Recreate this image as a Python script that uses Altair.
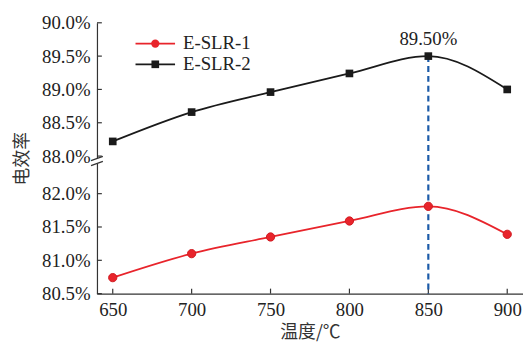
import altair as alt
import pandas as pd

# ---- data ----
temps = [650, 700, 750, 800, 850, 900]
eslr1 = [80.74, 81.10, 81.35, 81.59, 81.81, 81.39]
eslr2 = [88.22, 88.66, 88.96, 89.24, 89.50, 89.00]
series_names = ["E-SLR-1", "E-SLR-2"]
series_colors = ["#e8242b", "#1a1a1a"]
series_shapes = ["circle", "square"]
lower_ticks = [80.5, 81.0, 81.5, 82.0]
upper_ticks = [88.0, 88.5, 89.0, 89.5, 90.0]
x_ticks = [650, 700, 750, 800, 850, 900]
peak_temp = 850
peak_value = 89.50
peak_label = "89.50%"

LOW, LOW_TOP, HIGH, HIGH_TOP = 80.5, 82.0, 88.0, 90.0
GAP = 0.564
SHIFT = (LOW_TOP - LOW) + GAP
X_MIN, X_MAX = 640, 910


def to_axis(v):
    return v - LOW if v < 85 else v - HIGH + SHIFT


rows = []
for name, vals in zip(series_names, [eslr1, eslr2]):
    for t, v in zip(temps, vals):
        rows.append({"series": name, "temp": t, "value": v, "d": to_axis(v)})
df = pd.DataFrame(rows)

SERIF = "Times New Roman, Liberation Serif, serif"
CJK = "Noto Sans CJK SC"

y_tick_vals = [round(to_axis(t), 4) for t in lower_ticks + upper_ticks]
label_expr = (
    f"datum.value < 1.8 ? format(datum.value + {LOW}, '.1f') + '%' : "
    f"format(datum.value + {HIGH} - {SHIFT}, '.1f') + '%'"
)

x_scale = alt.Scale(domain=[X_MIN, X_MAX], nice=False, zero=False)
y_scale = alt.Scale(domain=[0, to_axis(HIGH_TOP)], nice=False, zero=False)

x_axis = alt.Axis(
    values=x_ticks, titlePadding=4, labelFont=SERIF, labelFontSize=19, labelColor="#222",
    labelOverlap=False, labelPadding=7, titleFont=CJK, titleFontSize=18, titleFontWeight="normal",
    titleColor="#333", grid=False, domainColor="#333", domainWidth=1.2, ticks=False,
)
y_axis = alt.Axis(
    values=y_tick_vals, labelExpr=label_expr, titlePadding=10, labelFont=SERIF, labelFontSize=19,
    labelColor="#222", labelOverlap=False, labelPadding=7, titleFont=CJK, titleFontSize=18,
    titleFontWeight="normal", titleColor="#333", grid=False, domainColor="#333", domainWidth=1.2,
    ticks=False,
)

X = alt.X("temp:Q", scale=x_scale, title="温度/℃", axis=x_axis)
Y = alt.Y("d:Q", scale=y_scale, title="电效率", axis=y_axis)

color_scale = alt.Scale(domain=series_names, range=series_colors)

base = alt.Chart(df)

lines = base.mark_line(interpolate="monotone", strokeWidth=1.8).encode(
    x=X, y=Y, color=alt.Color("series:N", scale=color_scale, legend=None)
)

pts1 = base.transform_filter(alt.datum.series == series_names[0]).mark_point(
    shape="circle", filled=True, size=70, color=series_colors[0], opacity=1,
    stroke="#d01a20", strokeWidth=1
).encode(x=X, y=Y)
pts2 = base.transform_filter(alt.datum.series == series_names[1]).mark_point(
    shape="square", filled=True, size=60, color=series_colors[1], opacity=1
).encode(x=X, y=Y)

# inward tick marks (short rules from the axis inward)
xt_df = pd.DataFrame({"temp": x_ticks, "d": [0.0] * len(x_ticks), "d2": [0.075] * len(x_ticks)})
x_tick_marks = alt.Chart(xt_df).mark_rule(color="#333", strokeWidth=1.2).encode(x=X, y=Y, y2="d2:Q")
yt_df = pd.DataFrame({"temp": [X_MIN] * len(y_tick_vals), "t2": [X_MIN + 3.1] * len(y_tick_vals), "d": y_tick_vals})
y_tick_marks = alt.Chart(yt_df).mark_rule(color="#333", strokeWidth=1.2).encode(x=X, x2="t2:Q", y=Y)

peak_df = pd.DataFrame({"temp": [peak_temp], "d": [to_axis(peak_value)], "d0": [0.0], "label": [peak_label]})
peak_rule = alt.Chart(peak_df).mark_rule(color="#1b5aa8", strokeWidth=2.2, strokeDash=[6, 4]).encode(
    x=X, y=Y, y2="d0:Q"
)
peak_text = alt.Chart(peak_df).mark_text(font=SERIF, fontSize=19, color="#222", dy=-17).encode(
    x=X, y=Y, text="label:N"
)

# axis break symbol
brk_df_gap = pd.DataFrame({"temp": [X_MIN], "d": [1.95], "d2": [2.03]})
brk_gap = alt.Chart(brk_df_gap).mark_rect(color="white").encode(
    x=alt.value(-2), x2=alt.value(2), y=Y, y2="d2:Q"
)
brk_df = pd.DataFrame({"d": [1.92, 1.995], "d2": [1.985, 2.06]})
brk = alt.Chart(brk_df).mark_rule(color="#333", strokeWidth=1.2).encode(
    x=alt.value(-6), x2=alt.value(6), y=Y, y2="d2:Q"
)

# legend (line + marker + label per series)
legend_layers = []
one = pd.DataFrame({"k": [0]})
for i, (name, col, shp) in enumerate(zip(series_names, series_colors, series_shapes)):
    ly = 21 + 21 * i
    legend_layers.append(
        alt.Chart(one).mark_rule(color=col, strokeWidth=1.8).encode(
            x=alt.value(39), x2=alt.value(79), y=alt.value(ly)
        )
    )
    legend_layers.append(
        alt.Chart(one).mark_point(shape=shp, filled=True, size=70 if shp == "circle" else 60,
                                  color=col, opacity=1).encode(x=alt.value(59), y=alt.value(ly))
    )
    legend_layers.append(
        alt.Chart(one).mark_text(font=SERIF, fontSize=19, color="#222", align="left",
                                 baseline="middle").encode(
            x=alt.value(87), y=alt.value(ly), text=alt.value(name)
        )
    )

chart = alt.layer(
    lines, x_tick_marks, y_tick_marks, peak_rule, pts1, pts2, peak_text, brk_gap, brk, *legend_layers
).properties(
    width=431,
    height=274,
    autosize=alt.AutoSizeParams(type="none"),
    padding={"left": 90, "top": 13, "right": 0, "bottom": 50},
).configure_view(stroke=None)

chart.save("out.html", embed_options={"renderer": "svg", "actions": False})
